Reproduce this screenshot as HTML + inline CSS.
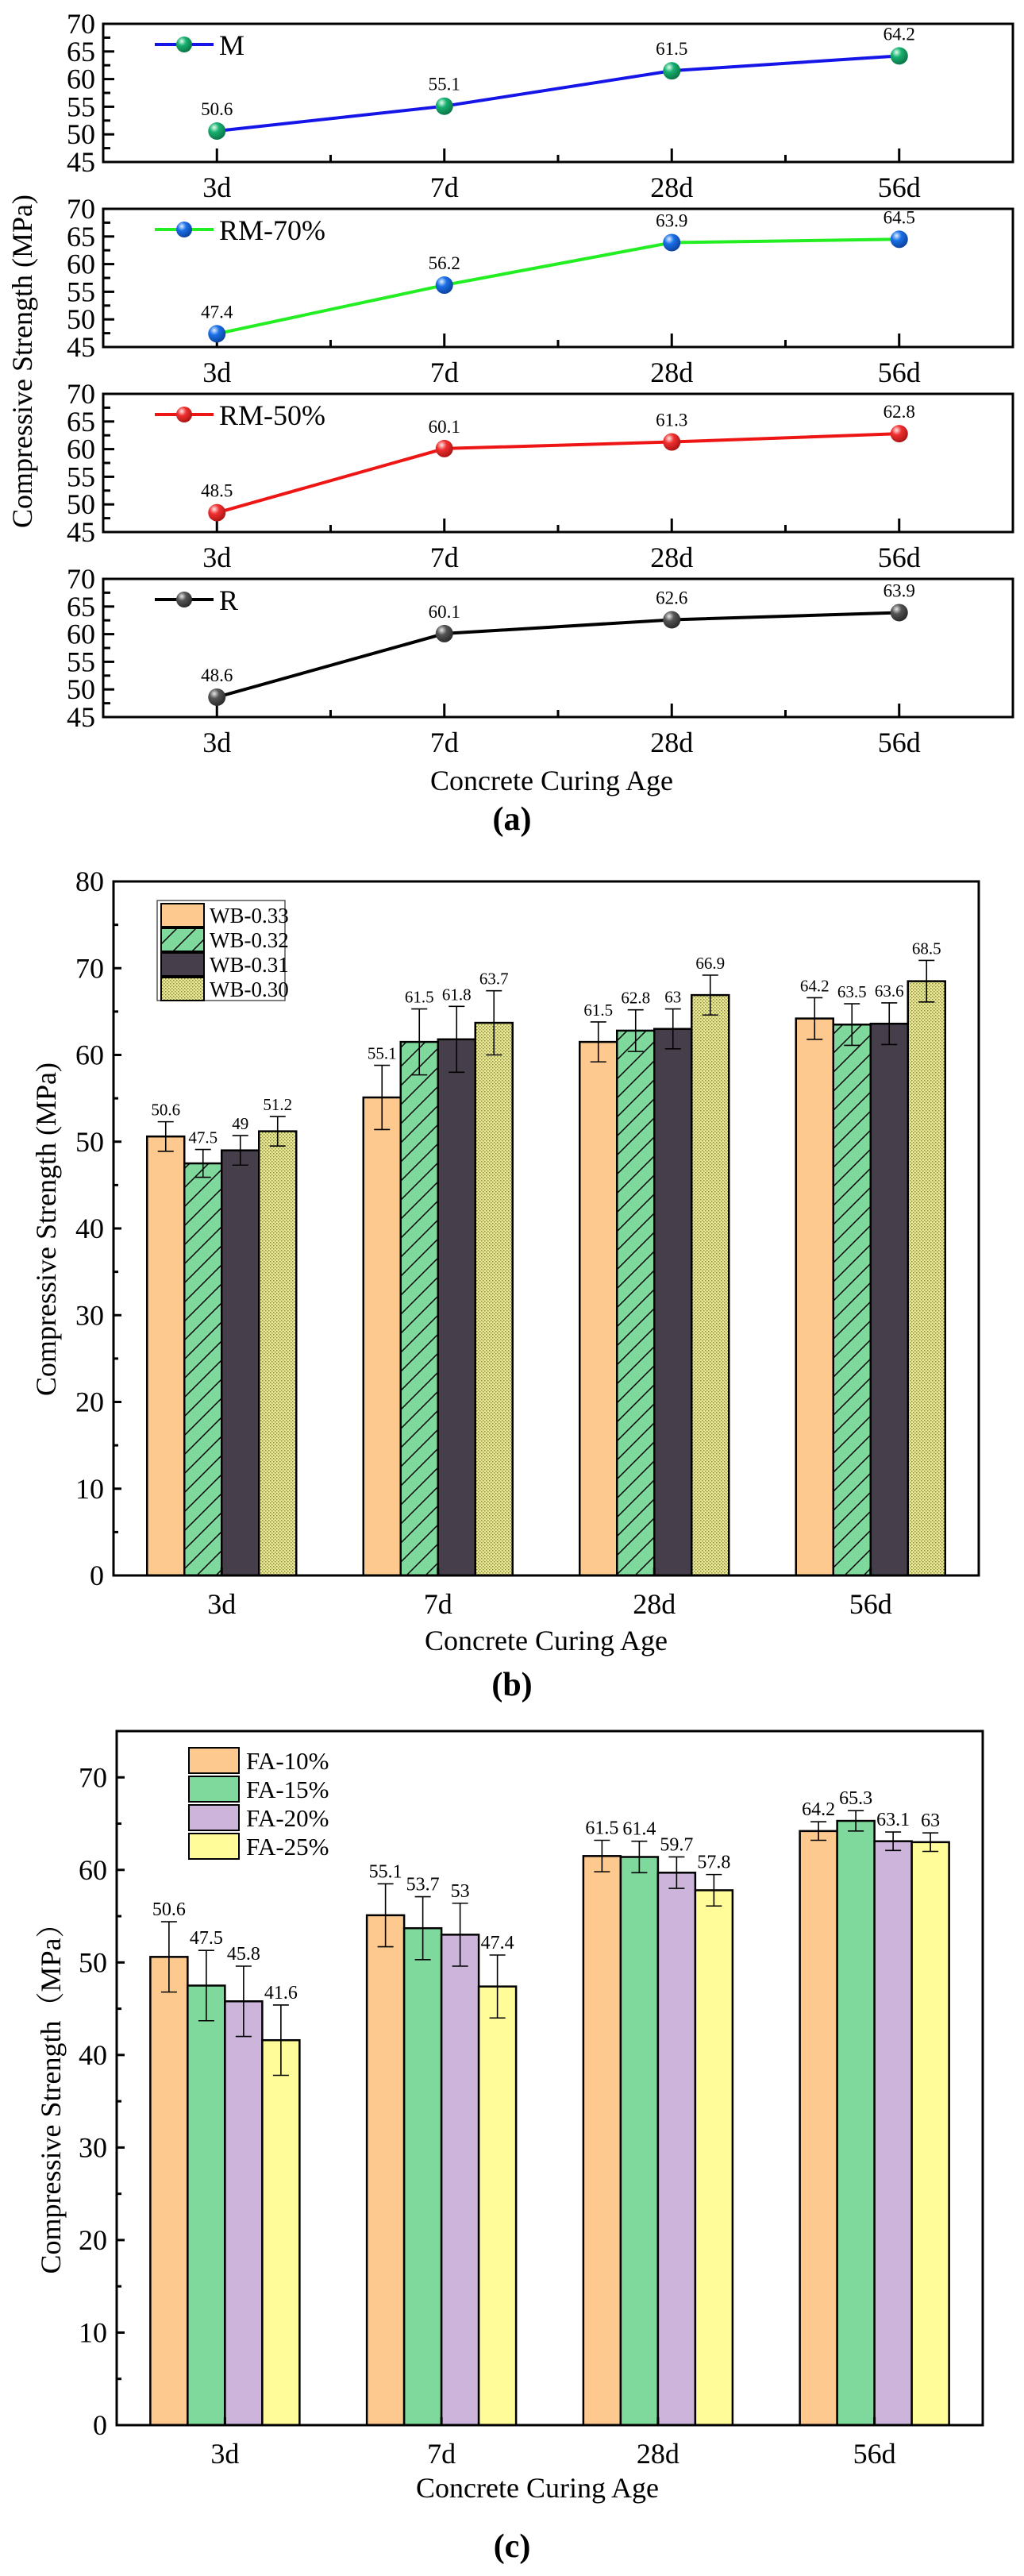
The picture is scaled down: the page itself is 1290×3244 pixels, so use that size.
<!DOCTYPE html>
<html><head><meta charset="utf-8"><style>
html,body{margin:0;padding:0;background:#fff;}
svg{display:block;font-family:"Liberation Serif",serif;}
</style></head><body>
<svg id="fig" width="1290" height="3244" viewBox="0 0 1290 3244" xmlns="http://www.w3.org/2000/svg">
<defs>
<pattern id="hatch" patternUnits="userSpaceOnUse" width="24" height="24">
<rect width="24" height="24" fill="#7fd89c"/>
<path d="M-6,30 L30,-6 M-6,6 L6,-6 M18,30 L30,18" stroke="#000" stroke-width="1.5"/>
</pattern>
<pattern id="dots" patternUnits="userSpaceOnUse" width="4" height="4">
<rect width="4" height="4" fill="#eceb95"/>
<rect x="0" y="0" width="1.5" height="1.5" fill="#8a8a40"/>
<rect x="2" y="2" width="1.5" height="1.5" fill="#8a8a40"/>
</pattern>
<radialGradient id="gG" cx="0.35" cy="0.3" r="0.8"><stop offset="0" stop-color="#e0fff0"/><stop offset="0.35" stop-color="#17b070"/><stop offset="1" stop-color="#0a6a40"/></radialGradient>
<radialGradient id="gB" cx="0.35" cy="0.3" r="0.8"><stop offset="0" stop-color="#e0f0ff"/><stop offset="0.35" stop-color="#1a70e8"/><stop offset="1" stop-color="#0a3a90"/></radialGradient>
<radialGradient id="gR" cx="0.35" cy="0.3" r="0.8"><stop offset="0" stop-color="#ffe8e8"/><stop offset="0.35" stop-color="#f03030"/><stop offset="1" stop-color="#a01010"/></radialGradient>
<radialGradient id="gK" cx="0.35" cy="0.3" r="0.8"><stop offset="0" stop-color="#e8e8e8"/><stop offset="0.35" stop-color="#555"/><stop offset="1" stop-color="#222"/></radialGradient>
</defs>
</svg>
<script>
// ---------- data ----------
const ages = ["3d","7d","28d","56d"];
// panel (a)
const seriesANames = ["M","RM-70%","RM-50%","R"];
const valsM = [50.6,55.1,61.5,64.2];
const valsRM70 = [47.4,56.2,63.9,64.5];
const valsRM50 = [48.5,60.1,61.3,62.8];
const valsR = [48.6,60.1,62.6,63.9];
const aTicks = [45,50,55,60,65,70];
// panel (b)
const seriesBNames = ["WB-0.33","WB-0.32","WB-0.31","WB-0.30"];
const wb033 = [50.6,55.1,61.5,64.2];
const wb032 = [47.5,61.5,62.8,63.5];
const wb031 = [49,61.8,63,63.6];
const wb030 = [51.2,63.7,66.9,68.5];
const errB033 = [1.7,3.7,2.3,2.4];
const errB032 = [1.6,3.8,2.4,2.4];
const errB031 = [1.7,3.8,2.3,2.4];
const errB030 = [1.7,3.7,2.3,2.4];
const bTicks = [0,10,20,30,40,50,60,70,80];
// panel (c)
const seriesCNames = ["FA-10%","FA-15%","FA-20%","FA-25%"];
const fa10 = [50.6,55.1,61.5,64.2];
const fa15 = [47.5,53.7,61.4,65.3];
const fa20 = [45.8,53,59.7,63.1];
const fa25 = [41.6,47.4,57.8,63];
const errC10 = [3.8,3.4,1.7,1.0];
const errC15 = [3.8,3.4,1.7,1.1];
const errC20 = [3.8,3.4,1.7,1.0];
const errC25 = [3.8,3.4,1.7,1.0];
const cTicks = [0,10,20,30,40,50,60,70];

const NS="http://www.w3.org/2000/svg";
const svg=document.getElementById('fig');
function el(tag,attrs,parent){const e=document.createElementNS(NS,tag);for(const k in attrs)e.setAttribute(k,attrs[k]);(parent||svg).appendChild(e);return e;}
function txt(s,x,y,size,anchor,parent,extra){const t=el('text',Object.assign({x:x,y:y,'font-size':size,'text-anchor':anchor||'middle',fill:'#000'},extra||{}),parent);t.textContent=s;return t;}

// ---------- panel (a) ----------
const aLeft=130,aRight=1276,aH=174;
const aTops=[30,263,496,729];
const aData=[valsM,valsRM70,valsRM50,valsR];
const aLine=["#1515e8","#22ee22","#ee1515","#000"];
const aMark=["url(#gG)","url(#gB)","url(#gR)","url(#gK)"];
const band=(aRight-aLeft)/ages.length;
const ax=i=>aLeft+band*(i+0.5);
aData.forEach((vals,s)=>{
  const top=aTops[s],bot=top+aH;
  const ay=v=>bot-(v-45)/(70-45)*aH;
  const g=el('g',{});
  
  
  // ticks
  aTicks.forEach(t=>{
    el('line',{x1:aLeft,x2:aLeft+14,y1:ay(t),y2:ay(t),stroke:'#000','stroke-width':3},g);
    const lb=txt(String(t),aLeft-10,ay(t)+12,36,'end',g);
    
    
    if(t<70) el('line',{x1:aLeft,x2:aLeft+9,y1:ay(t+2.5),y2:ay(t+2.5),stroke:'#000','stroke-width':3},g);
  });
  ages.forEach((a,i)=>{
    el('line',{x1:ax(i),x2:ax(i),y1:bot,y2:bot-17,stroke:'#000','stroke-width':3},g);
    if(i<ages.length-1) el('line',{x1:ax(i)+band/2,x2:ax(i)+band/2,y1:bot,y2:bot-9,stroke:'#000','stroke-width':3},g);
    const lb=txt(a,ax(i),bot+44,36,'middle',g);
    
    
  });
  const pts=vals.map((v,i)=>ax(i)+','+ay(v)).join(' ');
  const pl=el('polyline',{points:pts,fill:'none',stroke:aLine[s],'stroke-width':4},g);
  
  
  vals.forEach((v,i)=>{
    const c=el('circle',{cx:ax(i),cy:ay(v),r:11,fill:aMark[s]},g);
    
    
    const lb=txt(String(v),ax(i),ay(v)-20,23,'middle',g);
    
    
  });
  el('rect',{x:aLeft,y:top,width:aRight-aLeft,height:aH,fill:'none',stroke:'#000','stroke-width':3},g);
  // legend
  const lg=el('g',{},g);
  
  
  el('line',{x1:195,x2:269,y1:top+26,y2:top+26,stroke:aLine[s],'stroke-width':4},lg);
  el('circle',{cx:232,cy:top+26,r:10,fill:aMark[s]},lg);
  txt(seriesANames[s],276,top+39,36,'start',lg);
});
let t;
t=txt('Compressive Strength (MPa)',0,0,36,'middle',svg,{transform:'translate(40,455) rotate(-90)'});

t=txt('Concrete Curing Age',695,995,36);

t=txt('(a)',645,1045,42,'middle',svg,{'font-weight':'bold'});


// ---------- bar panels ----------
function barPanel(cfg){
  const {left,right,top,bot,ymax,ticks,series,errs,fills,names,tag}=cfg;
  const y=v=>bot-v/ymax*(bot-top);
  const bw=(right-left)/ages.length;
  const cx=i=>left+bw*(i+0.5);
  const barW=47;
  const g=el('g',{});
  
  
  ticks.forEach(tk=>{
    el('line',{x1:left,x2:left+10,y1:y(tk),y2:y(tk),stroke:'#000','stroke-width':3},g);
    const lb=txt(String(tk),left-12,y(tk)+12,36,'end',g);
    
    
    if(tk+5<=ymax) el('line',{x1:left,x2:left+6,y1:y(tk+5),y2:y(tk+5),stroke:'#000','stroke-width':3},g);
  });
  ages.forEach((a,i)=>{
    series.forEach((vals,s)=>{
      const x0=cx(i)-2*barW+s*barW;
      const r=el('rect',{x:x0,y:y(vals[i]),width:barW,height:bot-y(vals[i]),fill:fills[s],stroke:'#000','stroke-width':2.5},g);
      
      
      const e=errs[s][i],mx=x0+barW/2;
      el('path',{d:`M${mx},${y(vals[i]+e)}V${y(vals[i]-e)}M${mx-10},${y(vals[i]+e)}H${mx+10}M${mx-10},${y(vals[i]-e)}H${mx+10}`,stroke:'#000','stroke-width':1.6,fill:'none'},g);
      const lb=txt(String(vals[i]),mx,y(vals[i]+e)-8,tag==='c'?24:21,'middle',g);
      
      
    });
    el('line',{x1:cx(i),x2:cx(i),y1:bot,y2:bot-10,stroke:'#000','stroke-width':3},g);
    const lb=txt(a,cx(i),bot+48,36,'middle',g);
    
    
  });
  el('rect',{x:left,y:top,width:right-left,height:bot-top,fill:'none',stroke:'#000','stroke-width':3},g);
  return g;
}
barPanel({left:143,right:1233,top:1110,bot:1984,ymax:80,ticks:bTicks,series:[wb033,wb032,wb031,wb030],errs:[errB033,errB032,errB031,errB030],fills:['#fec98f','url(#hatch)','#463f4b','url(#dots)'],names:seriesBNames,tag:'b'});
// legend b
(function(){
  const lg=el('g',{});
  
  
  el('rect',{x:198,y:1134,width:161,height:126,fill:'#fff',stroke:'#555','stroke-width':1.5},lg);
  const f=['#fec98f','url(#hatch)','#463f4b','url(#dots)'];
  seriesBNames.forEach((n,i)=>{
    const e=el('g',{},lg);
    
    
    el('rect',{x:203,y:1138+i*31,width:54,height:29,fill:f[i],stroke:'#000','stroke-width':2},e);
    txt(n,264,1162+i*31,27,'start',e);
  });
})();
t=txt('Compressive Strength (MPa)',0,0,36,'middle',svg,{transform:'translate(70,1548) rotate(-90)'});

t=txt('Concrete Curing Age',688,2078,36);

t=txt('(b)',645,2135,42,'middle',svg,{'font-weight':'bold'});


barPanel({left:147,right:1238,top:2180,bot:3054,ymax:75,ticks:cTicks,series:[fa10,fa15,fa20,fa25],errs:[errC10,errC15,errC20,errC25],fills:['#fec98f','#7fd89c','#cdb4db','#fffc99'],names:seriesCNames,tag:'c'});
(function(){
  const lg=el('g',{});
  
  
  const f=['#fec98f','#7fd89c','#cdb4db','#fffc99'];
  seriesCNames.forEach((n,i)=>{
    const e=el('g',{},lg);
    
    
    el('rect',{x:238,y:2201+i*36,width:63,height:32,fill:f[i],stroke:'#000','stroke-width':2},e);
    txt(n,310,2228+i*36,31,'start',e);
  });
})();
t=txt('Compressive Strength（MPa）',0,0,36,'middle',svg,{transform:'translate(76,2634) rotate(-90)','font-family':'"Liberation Serif","Noto Serif CJK SC",serif'});

t=txt('Concrete Curing Age',677,3145,36);

t=txt('(c)',645,3220,42,'middle',svg,{'font-weight':'bold'});

</script>
</body></html>
